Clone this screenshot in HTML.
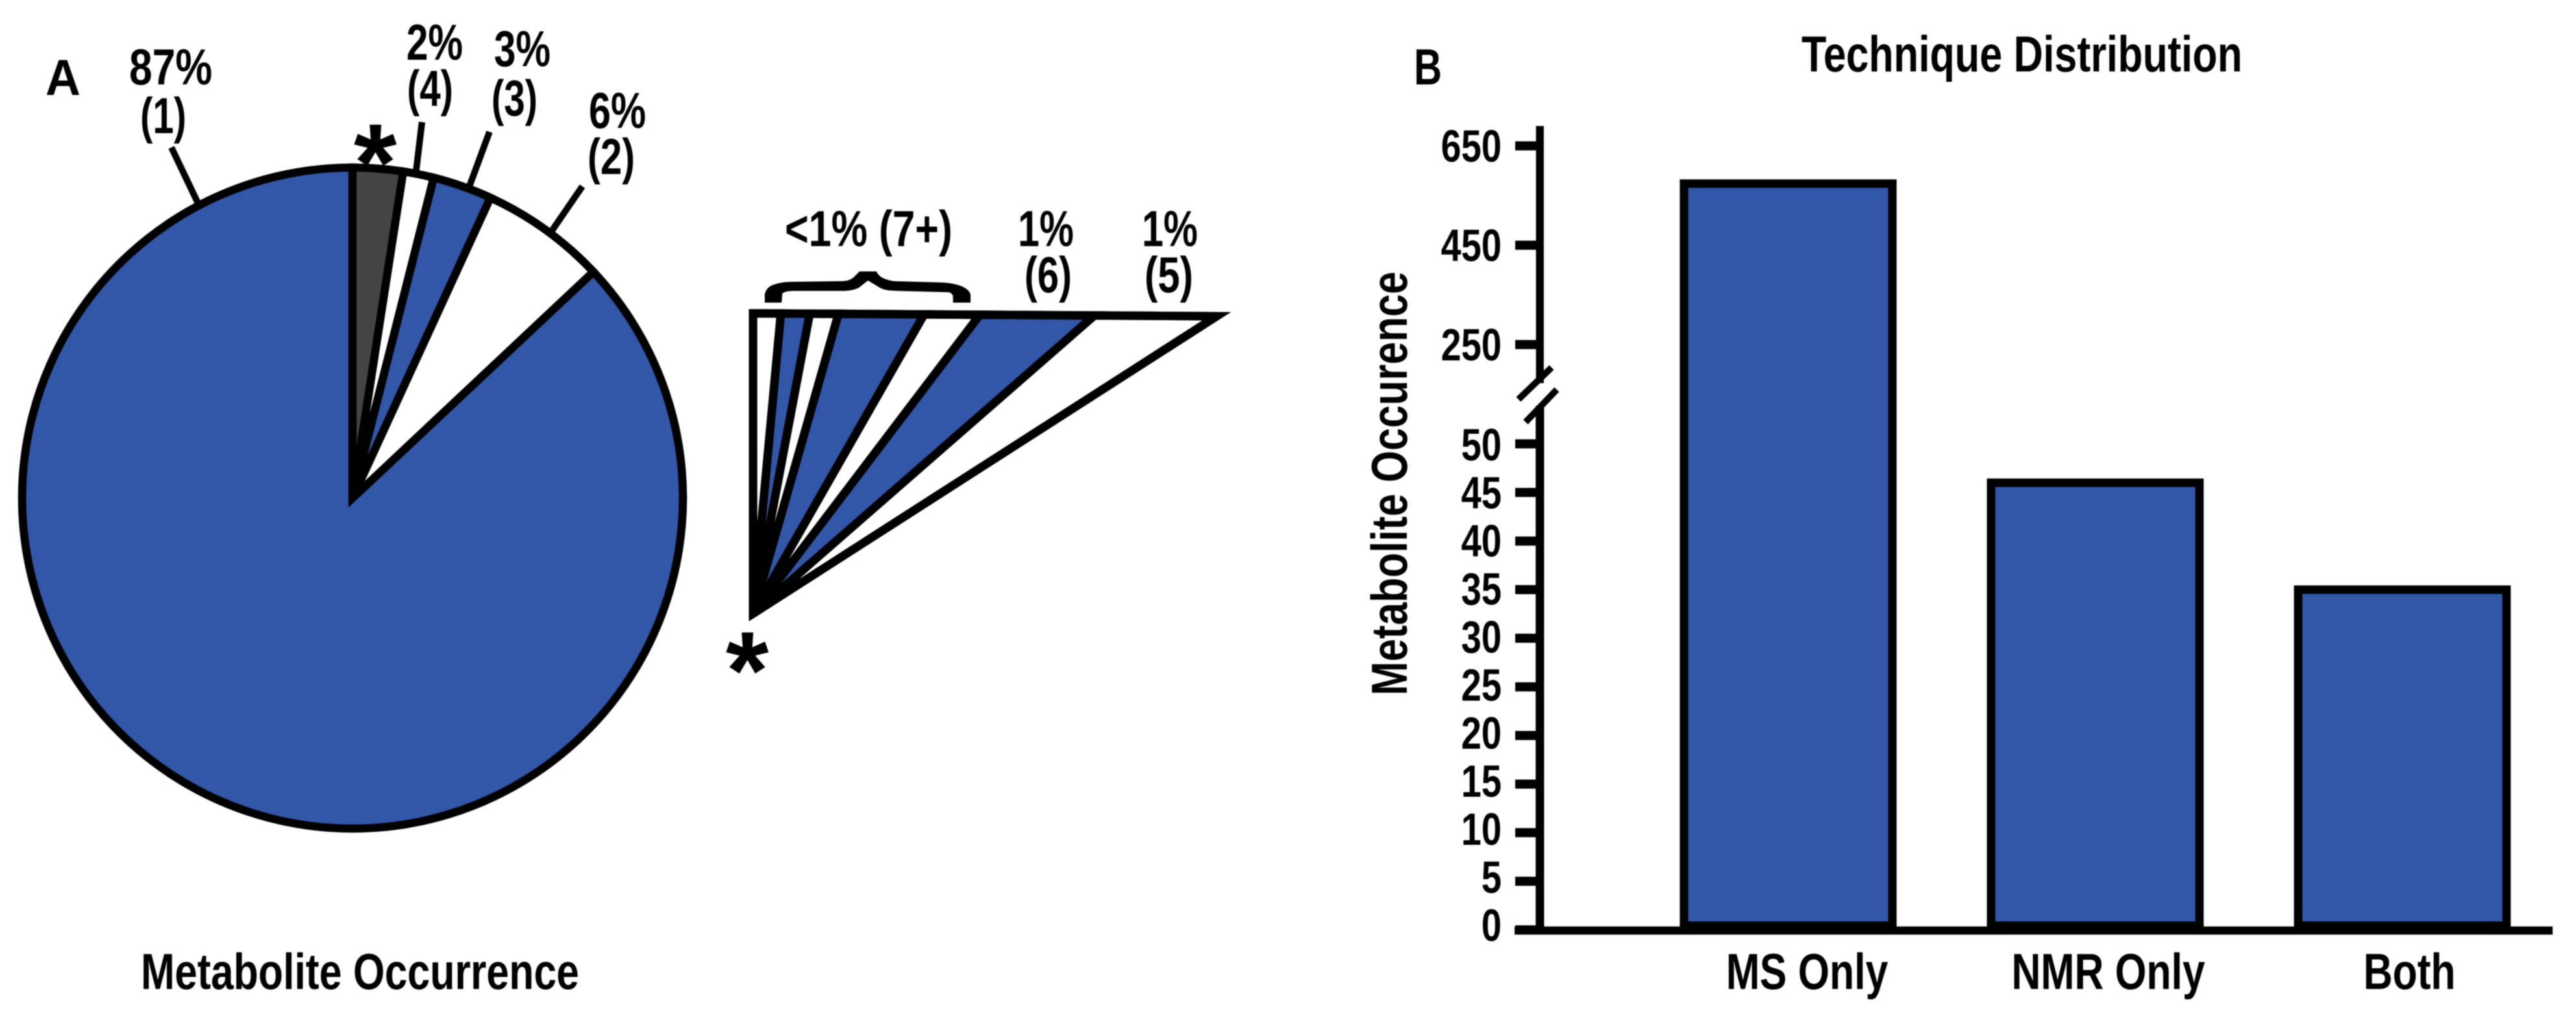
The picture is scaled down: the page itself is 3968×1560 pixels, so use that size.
<!DOCTYPE html>
<html lang="en">
<head>
<meta charset="utf-8">
<title>Metabolite Occurrence and Technique Distribution</title>
<style>
html,body{margin:0;padding:0;background:#fff;}
svg{display:block;filter:blur(0.7px);}
text{font-family:"Liberation Sans",Arial,sans-serif;font-weight:bold;fill:#000;font-size:78px;}
</style>
</head>
<body>
<svg id="figure" xmlns="http://www.w3.org/2000/svg" width="3968" height="1560" viewBox="0 0 3968 1560">
  <rect width="3968" height="1560" fill="#fff"/>

  <g id="pie"></g>
  <g id="inset"></g>
  <g id="bars"></g>

  <text x="70" y="146" textLength="54" lengthAdjust="spacingAndGlyphs">A</text>
  <text x="2178" y="130" textLength="43" lengthAdjust="spacingAndGlyphs">B</text>

  <line x1="264" y1="227" x2="305" y2="313" stroke="#000" stroke-width="10"/>
  <line x1="650" y1="188" x2="641" y2="263" stroke="#000" stroke-width="10"/>
  <line x1="754" y1="203" x2="723" y2="287" stroke="#000" stroke-width="10"/>
  <line x1="897" y1="287" x2="849" y2="357" stroke="#000" stroke-width="10"/>

  <text x="199" y="130" textLength="128" lengthAdjust="spacingAndGlyphs">87%</text>
  <text x="216" y="205" textLength="71" lengthAdjust="spacingAndGlyphs">(1)</text>
  <text x="626" y="92" textLength="87" lengthAdjust="spacingAndGlyphs">2%</text>
  <text x="627" y="163" textLength="71" lengthAdjust="spacingAndGlyphs">(4)</text>
  <text x="761" y="102" textLength="87" lengthAdjust="spacingAndGlyphs">3%</text>
  <text x="757" y="178" textLength="71" lengthAdjust="spacingAndGlyphs">(3)</text>
  <text x="907" y="197" textLength="88" lengthAdjust="spacingAndGlyphs">6%</text>
  <text x="905" y="268" textLength="73" lengthAdjust="spacingAndGlyphs">(2)</text>

  <text x="545" y="309" style="font-size:170px">*</text>
  <text x="1118" y="1091" style="font-size:170px">*</text>

  <path fill="#000" d="M1178,466 L1178,453 C1180,445 1185,440 1193,438 C1205,434 1215,434 1223,434 L1293,433 C1303,433 1310,432 1316,426 L1324,418 L1350,418 C1353,424 1358,430 1377,433 L1450,435 C1470,436 1483,440 1490,446 C1494,450 1495,452 1495,455 L1495,466 L1468,466 L1468,457 C1468,453 1464,450 1460,450 L1383,448 C1370,447 1362,448 1352,441 L1337,432 L1323,443 C1315,447 1305,448 1297,448 L1223,448 C1213,448 1205,450 1205,453 L1204,466 Z"/>

  <text x="1209" y="379" textLength="258" lengthAdjust="spacingAndGlyphs">&lt;1% (7+)</text>
  <text x="1568" y="379" textLength="86" lengthAdjust="spacingAndGlyphs">1%</text>
  <text x="1578" y="450" textLength="73" lengthAdjust="spacingAndGlyphs">(6)</text>
  <text x="1759" y="379" textLength="86" lengthAdjust="spacingAndGlyphs">1%</text>
  <text x="1763" y="450" textLength="75" lengthAdjust="spacingAndGlyphs">(5)</text>

  <text x="217" y="1523" textLength="675" lengthAdjust="spacingAndGlyphs">Metabolite Occurrence</text>
  <text x="2775" y="110" textLength="679" lengthAdjust="spacingAndGlyphs">Technique Distribution</text>
  <text transform="translate(2167,1071) rotate(-90)" textLength="653" lengthAdjust="spacingAndGlyphs">Metabolite Occurence</text>
</svg>

<script>
// Pie chart data, clockwise from 12 o'clock (percent)
const pieNames = ['unlabelled-remainder', 'rank-4', 'rank-3', 'rank-2', 'rank-1'];
const pieValues = [2.45, 1.5, 2.9, 6.15, 87];
const pieColors = ['#444444', '#ffffff', '#3357a8', '#ffffff', '#3357a8'];

// Inset wedge data, left to right (degrees of spread)
const insetNames = ['a', 'b', 'c', 'd', 'e', 'rank-6', 'rank-5'];
const insetValues = [5.3, 5.4, 5.2, 13.8, 7.4, 11.6, 8.4];
const insetColors = ['#ffffff', '#3357a8', '#ffffff', '#3357a8', '#ffffff', '#3357a8', '#ffffff'];

// Bar chart data
const barCategories = ['MS Only', 'NMR Only', 'Both'];
const barValues = [574, 46, 35];
const upperTicks = [650, 450, 250];
const lowerTicks = [50, 45, 40, 35, 30, 25, 20, 15, 10, 5, 0];

const SVGNS = 'http://www.w3.org/2000/svg';
const BLUE = '#3357a8';

function mk(tag, parent) {
  const el = document.createElementNS(SVGNS, tag);
  parent.appendChild(el);
  return el;
}

/* ---------- pie ---------- */
const pieG = document.getElementById('pie');
const pieCx = 543, pieCy = 767, pieR = 509;
function piePoint(pct) {
  const a = pct / 100 * 2 * Math.PI;
  return [pieCx + pieR * Math.sin(a), pieCy - pieR * Math.cos(a)];
}
let pieCum = 0;
const pieTotal = pieValues.reduce((a, b) => a + b, 0);
const pieStarts = pieValues.map(v => { const s = pieCum; pieCum += v / pieTotal * 100; return s; });
for (let i = pieValues.length - 1; i >= 0; i--) {
  const pct = pieValues[i] / pieTotal * 100;
  const p0 = piePoint(pieStarts[i]);
  const p1 = piePoint(pieStarts[i] + pct);
  const slice = mk('path', pieG);
  
  
  slice.setAttribute('d', 'M' + pieCx + ',' + pieCy + ' L' + p0[0] + ',' + p0[1] + ' A' + pieR + ',' + pieR + ' 0 ' + (pct > 50 ? 1 : 0) + ' 1 ' + p1[0] + ',' + p1[1] + ' Z');
  slice.setAttribute('fill', pieColors[i]);
  slice.setAttribute('stroke', '#000');
  slice.setAttribute('stroke-width', '12.5');
  slice.setAttribute('stroke-linejoin', 'miter');
}

/* ---------- inset ---------- */
const insetG = document.getElementById('inset');
const apexX = 1160, apexY = 945, topY = 483;
function insetTopX(deg) {
  return apexX + (apexY - topY) * Math.tan(deg * Math.PI / 180);
}
function insetEdgeY(x) {
  return 482.5 + (x - apexX) * 0.0063;
}
let insetCum = 0;
insetValues.forEach((v, i) => {
  const x0 = insetTopX(insetCum);
  const x1 = insetTopX(insetCum + v);
  insetCum += v;
  const wedge = mk('polygon', insetG);
  
  
  wedge.setAttribute('points', apexX + ',' + apexY + ' ' + x0 + ',' + insetEdgeY(x0) + ' ' + x1 + ',' + insetEdgeY(x1));
  wedge.setAttribute('fill', insetColors[i]);
  wedge.setAttribute('stroke', '#000');
  wedge.setAttribute('stroke-width', '13');
});
const insetEnd = insetTopX(insetCum);
const insetOutline = mk('polygon', insetG);


insetOutline.setAttribute('points', apexX + ',' + apexY + ' ' + apexX + ',' + insetEdgeY(apexX) + ' ' + insetEnd + ',' + insetEdgeY(insetEnd));
insetOutline.setAttribute('fill', 'none');
insetOutline.setAttribute('stroke', '#000');
insetOutline.setAttribute('stroke-width', '13');
insetOutline.setAttribute('stroke-miterlimit', '6');

/* ---------- bars ---------- */
const barG = document.getElementById('bars');
function yScale(v) {
  return v >= 250 ? 530.6 - (v - 250) * 0.765 : 1432 - v * 14.97;
}
function xScale(i) {
  return 2754.5 + 473 * i;
}
const barWidth = 321, barBottom = 1425.5;

barCategories.forEach((c, i) => {
  const bar = mk('rect', barG);
  
  
  bar.setAttribute('x', xScale(i) - barWidth / 2);
  bar.setAttribute('y', yScale(barValues[i]));
  bar.setAttribute('width', barWidth);
  bar.setAttribute('height', barBottom - yScale(barValues[i]));
  bar.setAttribute('fill', BLUE);
  bar.setAttribute('stroke', '#000');
  bar.setAttribute('stroke-width', '13');

  const label = mk('text', barG);
  
  
  label.setAttribute('transform', 'translate(' + (2783.5 + 464 * i) + ',1523) scale(0.8,1)');
  label.setAttribute('text-anchor', 'middle');
  label.textContent = c;
});

const axisUpper = mk('line', barG);


axisUpper.setAttribute('x1', 2372);
axisUpper.setAttribute('x2', 2372);
axisUpper.setAttribute('y1', 194);
axisUpper.setAttribute('y2', 590);
axisUpper.setAttribute('stroke', '#000');
axisUpper.setAttribute('stroke-width', '12');

const axisLower = mk('line', barG);


axisLower.setAttribute('x1', 2372);
axisLower.setAttribute('x2', 2372);
axisLower.setAttribute('y1', 625);
axisLower.setAttribute('y2', 1432);
axisLower.setAttribute('stroke', '#000');
axisLower.setAttribute('stroke-width', '13');

const breakTop = mk('line', barG);


breakTop.setAttribute('x1', 2339);
breakTop.setAttribute('y1', 615);
breakTop.setAttribute('x2', 2390);
breakTop.setAttribute('y2', 566);
breakTop.setAttribute('stroke', '#000');
breakTop.setAttribute('stroke-width', '10');

const breakBottom = mk('line', barG);


breakBottom.setAttribute('x1', 2350);
breakBottom.setAttribute('y1', 650);
breakBottom.setAttribute('x2', 2398);
breakBottom.setAttribute('y2', 600);
breakBottom.setAttribute('stroke', '#000');
breakBottom.setAttribute('stroke-width', '10');

const baseline = mk('line', barG);


baseline.setAttribute('x1', 2333);
baseline.setAttribute('x2', 3932);
baseline.setAttribute('y1', 1433);
baseline.setAttribute('y2', 1433);
baseline.setAttribute('stroke', '#000');
baseline.setAttribute('stroke-width', '12.5');

function drawTick(v, labelY) {
  const tick = mk('line', barG);
  
  
  tick.setAttribute('x1', 2334);
  tick.setAttribute('x2', 2372);
  tick.setAttribute('y1', yScale(v));
  tick.setAttribute('y2', yScale(v));
  tick.setAttribute('stroke', '#000');
  tick.setAttribute('stroke-width', '14');

  const label = mk('text', barG);
  
  
  label.setAttribute('transform', 'translate(2313,' + labelY + ') scale(0.8,1)');
  label.setAttribute('text-anchor', 'end');
  label.setAttribute('style', 'font-size:70px');
  label.textContent = String(v);
}
upperTicks.forEach(v => drawTick(v, yScale(v) + 24.5));
lowerTicks.forEach(v => drawTick(v, 1449 - v * 14.8));
</script>
</body>
</html>
